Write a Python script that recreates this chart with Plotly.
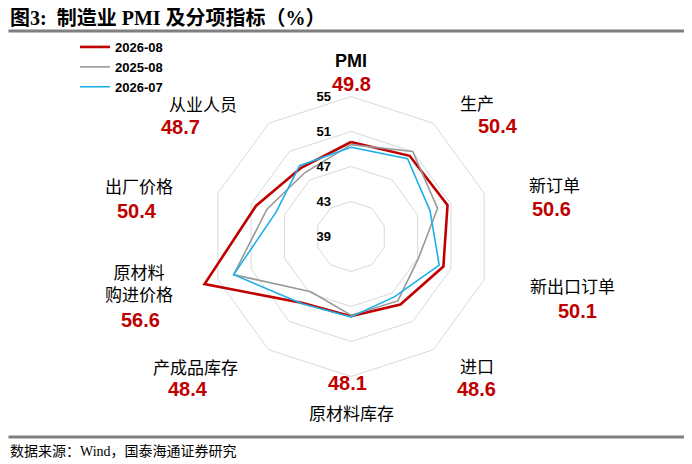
import plotly.graph_objects as go

# Categories (clockwise from top) and series values
categories = ["PMI", "生产", "新订单", "新出口订单", "进口",
              "原材料库存", "产成品库存", "原材料购进价格", "出厂价格", "从业人员"]
series_names = ["2026-08", "2025-08", "2026-07"]
vals_2026_08 = [49.8, 50.4, 50.6, 50.1, 48.6, 48.1, 48.4, 56.6, 50.4, 48.7]
vals_2025_08 = [49.5, 51.0, 49.4, 47.1, 48.1, 48.0, 46.8, 53.1, 49.1, 48.0]
vals_2026_07 = [49.2, 50.0, 48.5, 49.6, 47.5, 48.2, 48.5, 53.1, 48.0, 49.0]
radial_ticks = [39, 43, 47, 51, 55]

# display names for the outside labels
label_text = ["PMI", "生产", "新订单", "新出口订单", "进口",
              "原材料库存", "产成品库存", "原材料<br>购进价格", "出厂价格", "从业人员"]

W, H = 692, 464
OFF = 8  # page body margin of the html page

def to_x(x):
    return (x - OFF) / W

def to_y(y):
    return 1 - (y - OFF) / H

colors = ["#C00000", "#999999", "#1EB0EA"]
widths = [2.6, 1.6, 1.6]

fig = go.Figure()
for name, vals, c, w in zip(series_names, [vals_2026_08, vals_2025_08, vals_2026_07], colors, widths):
    fig.add_trace(go.Scatterpolar(
        r=vals + vals[:1], theta=categories + categories[:1],
        mode="lines", name=name, line=dict(color=c, width=w),
        cliponaxis=False, hoverinfo="skip"))

# polar area: centre (351, 236.5), 55-ring radius ~140 px, range runs to 59 so nothing is clipped
cx, cy, R = 351, 236.5, 175
fig.update_layout(
    width=W, height=H,
    margin=dict(l=0, r=0, t=0, b=0),
    paper_bgcolor="white",
    showlegend=True,
    legend=dict(x=to_x(75), y=to_y(32), xanchor="left", yanchor="top",
                font=dict(family="Liberation Sans", size=13, color="black", weight="bold"),
                bgcolor="rgba(0,0,0,0)", tracegroupgap=0),
    polar=dict(
        domain=dict(x=[to_x(cx - R), to_x(cx + R)], y=[to_y(cy + R), to_y(cy - R)]),
        bgcolor="white",
        gridshape="linear",
        angularaxis=dict(rotation=90, direction="clockwise", showgrid=False,
                         showticklabels=False, ticks="", showline=False),
        radialaxis=dict(range=[39, 59], tickvals=radial_ticks, angle=90, tickangle=90,
                        side="counterclockwise", showline=False, gridcolor="#D9D9D9",
                        gridwidth=1, ticks="outside", ticklen=15, tickcolor="rgba(0,0,0,0)",
                        tickfont=dict(family="Liberation Sans", size=13, color="black", weight="bold")),
    ),
)

# outside labels: name and value, pixel centres in the reference
name_pos = [(351, 61), (477, 102), (554, 184), (572, 285), (477, 365),
            (351, 412), (196, 366), (139, 282), (139, 186), (203, 103)]
value_pos = [(351, 84), (498, 126), (551, 209), (577, 311), (476, 389),
             (347, 383), (188, 389), (140, 320), (137, 211), (180, 127)]

for i, (txt, v) in enumerate(zip(label_text, vals_2026_08)):
    nx, ny = name_pos[i]
    vx, vy = value_pos[i]
    if txt == "PMI":
        nfont = dict(family="Liberation Sans", size=18, color="black", weight="bold")
    else:
        nfont = dict(family="Noto Sans CJK SC", size=17, color="black")
    fig.add_annotation(x=to_x(nx), y=to_y(ny), xref="paper", yref="paper", text=txt,
                       showarrow=False, font=nfont, xanchor="center", yanchor="middle")
    fig.add_annotation(x=to_x(vx), y=to_y(vy), xref="paper", yref="paper", text=f"{v:.1f}",
                       showarrow=False, xanchor="center", yanchor="middle",
                       font=dict(family="Liberation Sans", size=20, color="#C00000", weight="bold"))

# title, footer and rules
fig.add_annotation(x=to_x(8), y=to_y(18), xref="paper", yref="paper", xanchor="left", yanchor="middle",
                   text="<b>图3:  制造业 PMI 及分项指标（%）</b>", showarrow=False,
                   font=dict(family="Liberation Serif, Noto Sans CJK SC", size=20, color="black"))
fig.add_annotation(x=to_x(8), y=to_y(451), xref="paper", yref="paper", xanchor="left", yanchor="middle",
                   text="数据来源：Wind，国泰海通证券研究", showarrow=False,
                   font=dict(family="Liberation Serif, Noto Sans CJK SC", size=14, color="black"))
# horizontal rules under the title and above the source note
for yy in [31, 437]:
    fig.add_annotation(x=to_x(8), y=to_y(yy), xref="paper", yref="paper", xanchor="left",
                       yanchor="middle", text=" ", showarrow=False, width=682, height=2,
                       borderpad=0, bgcolor="#7F7F7F", font=dict(size=1))

fig.write_html("out.html")
